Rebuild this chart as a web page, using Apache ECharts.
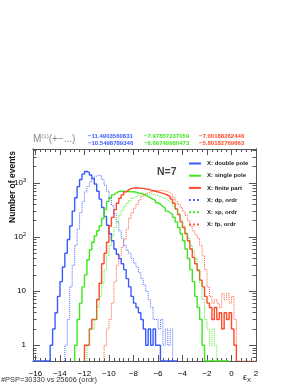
<!DOCTYPE html>
<html><head><meta charset="utf-8">
<script src="https://cdn.jsdelivr.net/npm/echarts@6/dist/echarts.min.js"></script>
<style>html,body{margin:0;padding:0;background:#fff}#c{width:300px;height:388px}</style>
</head><body><div id="c"></div>
<script>
// ---- data (histogram counts, bin width 0.2) ----
const binWidth = 0.2;
const names = ['X: double pole','X: single pole','X: finite part','X: dp, ordr','X: sp, ordr','X: fp, ordr'];
const colors = ['#3a5cff','#3ee61e','#ff4a2a','#3a5cff','#3ee61e','#ff4a2a'];
const lineTypes = ['solid','solid','solid','dotted','dotted','dotted'];
// left edge of first bin for each histogram
const startEdges = [-16.2, -12.8, -12.0, -13.6, -11.8, -10.4];
const dpCounts = [0,0,0,0,0,0,0,1,2,4,8,15,28,50,90,160,300,530,850,1150,1450,1620,1550,1400,1200,950,700,500,350,240,165,115,85,60,48,40,32,25,17,12,8,6,5,4,3,2,1,2,1,2,1,1,0,0,0,0,0,0,0];
const spCounts = [1,3,6,12,20,38,58,80,105,130,160,220,320,450,530,600,650,690,700,700,690,700,680,690,670,650,640,620,590,560,530,500,470,430,400,370,340,300,280,260,230,190,150,115,85,60,40,25,15,8,5,3,1,0,0,0,0,0,0,0,0,0,0];
const fpCounts = [1,1,2,3,3,7,14,32,50,80,160,230,320,420,520,600,680,740,780,800,810,800,790,790,770,760,740,720,700,680,660,640,620,590,560,500,420,330,260,190,150,115,85,60,42,32,24,16,12,8,6,5,3,5,3,4,2,4,3,4,2,1];
const dpOrdrCounts = [1,3,12,30,70,140,280,450,680,850,1050,1200,1330,1400,1350,1150,900,700,520,380,270,190,130,95,70,57,50,40,33,28,22,17,13,10,7,5,3,3,2,3,1,2,1,2];
const spOrdrCounts = [1,2,2,3,5,8,14,25,45,70,105,150,190,250,310,370,420,470,520,560,580,600,620,630,620,630,610,600,580,560,540,510,480,450,420,370,320,270,210,160,120,95,70,55,40,25,14,7,3,2,1,2,1];
const fpOrdrCounts = [1,2,3,6,15,30,45,65,90,140,220,280,340,400,480,560,610,650,680,700,720,720,730,720,710,690,650,600,530,460,400,350,300,250,200,160,130,110,95,70,45,25,12,8,6,7,6,5,9,7,9,6,8,3,0,0,0,0,0,0,0,0];
const allCounts = [dpCounts, spCounts, fpCounts, dpOrdrCounts, spOrdrCounts, fpOrdrCounts];
// axis ranges & ticks
const xMin = -16.2, xMax = 2;
const yLogMin = -0.29, yLogMax = 3.625;
const xMajorTicks = [-16,-14,-12,-10,-8,-6,-4,-2,0,2];
const yMajorTicks = [0,1,2,3];
const headerBlue = ['\u221211.4903560831','\u221210.5498789346'];
const headerGreen = ['\u22127.97857237059','\u22126.66749980473'];
const headerRed = ['\u22127.00188262446','\u22125.80182769663'];

// ---- build ----
const xMinorTicks = [];
for (let v = -16; v <= 2.0001; v += 0.4) xMinorTicks.push(+v.toFixed(2));
const yMinorTicks = [];
for (let d = -1; d <= 3; d++) for (let k = 2; k <= 9; k++) {
  const v = Math.log10(k * Math.pow(10, d));
  if (v > yLogMin && v < yLogMax) yMinorTicks.push(v);
}
function toLog(c){ return c > 0 ? Math.log10(c) : yLogMin; }
function stepData(start, counts){
  const pts = [[start, yLogMin]];
  counts.forEach((c,i)=>{
    const lo = +(start + i*binWidth).toFixed(3), hi = +(start + (i+1)*binWidth).toFixed(3);
    pts.push([lo, toLog(c)], [hi, toLog(c)]);
  });
  pts.push([+(start + counts.length*binWidth).toFixed(3), yLogMin]);
  return pts;
}
const FONT = 'Liberation Sans, Arial, Helvetica, sans-serif';
const frameColor = '#555';
function xAx(pos, ticks, len, labels){
  return {type:'value', min:xMin, max:xMax, position:pos, gridIndex:0,
    axisLine:{show:true, onZero:false, lineStyle:{color:frameColor,width:1}},
    splitLine:{show:false},
    axisTick:{show:true, inside:true, length:len, customValues:ticks, lineStyle:{color:frameColor}},
    axisLabel:{show:labels, customValues:xMajorTicks, margin:9, fontSize:8, color:'#000', fontFamily:FONT,
      formatter:v=> (v<0?'\u2212':'') + Math.abs(Math.round(v))}};
}
function yAx(pos, ticks, len, labels){
  return {type:'value', min:yLogMin, max:yLogMax, position:pos, gridIndex:0,
    axisLine:{show:true, onZero:false, lineStyle:{color:frameColor,width:1}},
    splitLine:{show:false},
    axisTick:{show:true, inside:true, length:len, customValues:ticks, lineStyle:{color:frameColor}},
    axisLabel:{show:labels, customValues:yMajorTicks, margin:7, fontSize:8, color:'#000', fontFamily:FONT,
      formatter:v=>{ const n=Math.round(v); return n===0?'1':(n===1?'10':'10{s|'+n+'}'); },
      rich:{s:{fontSize:5.5, verticalAlign:'top', padding:[0,0,5,0], fontFamily:FONT, color:'#000'}}}};
}
const series = allCounts.map((cnt,i)=>({
  name:names[i], type:'line', xAxisIndex:0, yAxisIndex:0, symbol:'none', showSymbol:false,
  animation:false, clip:true,
  lineStyle:{color:colors[i], width: lineTypes[i]==='solid'?1.4:1, type:lineTypes[i], opacity: lineTypes[i]==='solid'?1:0.9},
  itemStyle:{color:colors[i], opacity:0},
  data: stepData(startEdges[i], cnt)
}));
function txt(text, x, y, size, color, opts){
  return Object.assign({type:'text', silent:true, style:Object.assign({text, x, y, fill:color,
    font: (opts&&opts.bold?'bold ':'') + size + 'px ' + FONT, textAlign:'left', textVerticalAlign:'middle'}, (opts&&opts.style)||{})}, (opts&&opts.el)||{});
}
const graphics = [
  {type:'text', silent:true, style:{text:'M{s|(1)}(+\u2212...)', x:33, y:139, fill:'#888', font:'10px '+FONT, textVerticalAlign:'middle',
    rich:{s:{fontSize:6, fill:'#888', verticalAlign:'top', padding:[0,0,6,0], fontFamily:FONT}}}},
  txt(headerBlue[0], 88, 136, 6, '#3a5cff', {bold:true}),
  txt(headerBlue[1], 88, 143.3, 6, '#3a5cff', {bold:true}),
  txt(headerGreen[0], 144, 136, 6, '#3ee61e', {bold:true}),
  txt(headerGreen[1], 144, 143.3, 6, '#3ee61e', {bold:true}),
  txt(headerRed[0], 199, 136, 6, '#ff4a2a', {bold:true}),
  txt(headerRed[1], 199, 143.3, 6, '#ff4a2a', {bold:true}),
  txt('N=7', 157, 172, 10.5, '#444', {bold:true}),
  txt('#PSP=30330 vs 25606 (ordr)', 1, 379.5, 7.4, '#333', {}),
  {type:'text', silent:true, x:12.5, y:187, rotation:Math.PI/2,
    style:{text:'Number of events', x:0, y:0, fill:'#111', font:'bold 8.5px '+FONT, textAlign:'center', textVerticalAlign:'middle'}},
  {type:'text', silent:true, style:{text:'\u03b5{s|X}', x:243, y:378, fill:'#111', font:'9px '+FONT, textVerticalAlign:'middle',
    rich:{s:{fontSize:6, fill:'#111', verticalAlign:'bottom', padding:[5,0,0,0], fontFamily:FONT}}}}
];
const chart = echarts.init(document.getElementById('c'), null, {renderer:'canvas'});
chart.setOption({
  animation:false,
  backgroundColor:'#fff',
  grid:{left:33, right:44, top:149, bottom:27, containLabel:false},
  xAxis:[xAx('bottom', xMajorTicks, 6, true), xAx('bottom', xMinorTicks, 3, false),
         xAx('top', xMajorTicks, 6, false), xAx('top', xMinorTicks, 3, false)],
  yAxis:[yAx('left', yMajorTicks, 7, true), yAx('left', yMinorTicks, 3.5, false),
         yAx('right', yMajorTicks, 7, false), yAx('right', yMinorTicks, 3.5, false)],
  legend:{orient:'vertical', left:188, top:160, padding:0, itemWidth:12, itemHeight:7, itemGap:5.2,
    data:names, selectedMode:false, itemStyle:{opacity:0},
    textStyle:{fontSize:6, fontWeight:'bold', color:'#222', fontFamily:FONT, lineHeight:7, padding:[0,0,0,1]}},
  series: series,
  graphic: graphics
});
</script></body></html>
